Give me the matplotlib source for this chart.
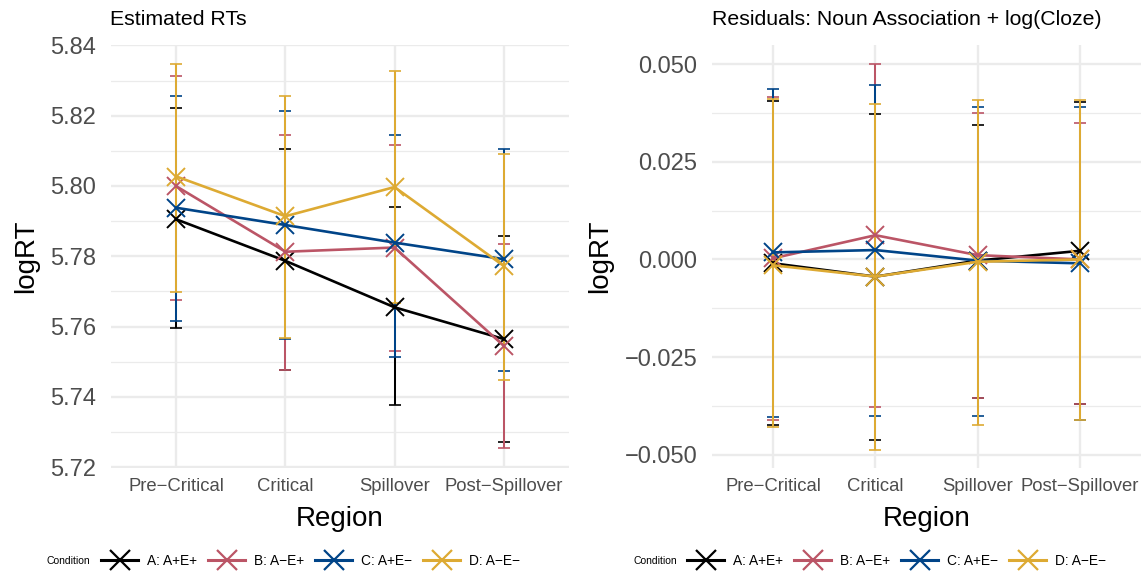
import matplotlib
matplotlib.use("Agg")
import matplotlib.pyplot as plt
from matplotlib.lines import Line2D
from matplotlib.ticker import MultipleLocator
import numpy as np

plt.rcParams['font.family'] = ['Liberation Sans', 'DejaVu Sans']

regions = ["Pre\u2212Critical", "Critical", "Spillover", "Post\u2212Spillover"]
conditions = ["A: A+E+", "B: A\u2212E+", "C: A+E\u2212", "D: A\u2212E\u2212"]
colors = ["#000000", "#BB5566", "#004488", "#DDAA33"]

# Panel 1: Estimated RTs
est_mean = {
    "A": [5.7905, 5.7787, 5.7655, 5.7565],
    "B": [5.7999, 5.7813, 5.7825, 5.7546],
    "C": [5.7938, 5.7889, 5.7839, 5.7792],
    "D": [5.8027, 5.7914, 5.7997, 5.7773],
}
est_upper = {
    "A": [5.8223, 5.8104, 5.7941, 5.7858],
    "B": [5.8312, 5.8144, 5.8117, 5.7836],
    "C": [5.8255, 5.8214, 5.8146, 5.8106],
    "D": [5.8348, 5.8257, 5.8326, 5.8091],
}
est_lower = {
    "A": [5.7596, 5.7478, 5.7378, 5.7272],
    "B": [5.7676, 5.7478, 5.7530, 5.7255],
    "C": [5.7617, 5.7566, 5.7515, 5.7474],
    "D": [5.7699, 5.7568, 5.7668, 5.7449],
}

# Panel 2: Residuals
res_mean = {
    "A": [-0.0010, -0.0044, -0.0003, 0.0022],
    "B": [0.0003, 0.0062, 0.0011, 0.0000],
    "C": [0.0018, 0.0024, -0.0003, -0.0010],
    "D": [-0.0015, -0.0044, -0.0006, 0.0000],
}
res_upper = {
    "A": [0.0406, 0.0372, 0.0345, 0.0402],
    "B": [0.0415, 0.0500, 0.0375, 0.0350],
    "C": [0.0436, 0.0446, 0.0391, 0.0389],
    "D": [0.0410, 0.0399, 0.0408, 0.0409],
}
res_lower = {
    "A": [-0.0425, -0.0463, -0.0355, -0.0369],
    "B": [-0.0412, -0.0378, -0.0355, -0.0369],
    "C": [-0.0403, -0.0400, -0.0400, -0.0412],
    "D": [-0.0429, -0.0487, -0.0423, -0.0412],
}

W, H = 1148, 573
fig = plt.figure(figsize=(W / 100, H / 100), dpi=100)


def px_axes(x0, x1, ytop, ybot):
    return fig.add_axes([x0 / W, (H - ybot) / H, (x1 - x0) / W, (ybot - ytop) / H])


GRID = "#EBEBEB"


def draw_panel(ax, mean, upper, lower, ylim, major, minor, fmt, title, title_x):
    x = np.arange(1, len(regions) + 1)
    keys = list(mean.keys())
    for i, k in enumerate(keys):
        m = np.array(mean[k]); u = np.array(upper[k]); l = np.array(lower[k])
        _, caps, bars = ax.errorbar(x, m, yerr=[m - l, u - m], fmt='none', ecolor=colors[i],
                                    elinewidth=1.25, capsize=4.3, capthick=1.2,
                                    zorder=3 + i * 0.1)
        for b in bars:
            b.set_snap(True)
            b.set_antialiased(False)
    for i, k in enumerate(keys):
        ax.plot(x, mean[k], color=colors[i], lw=1.9, marker='x', markersize=13,
                mew=1.4, zorder=4 + i * 0.1)
    ax.set_xlim(0.4, len(regions) + 0.6)
    ax.set_ylim(*ylim)
    ax.set_xticks(x)
    ax.set_xticklabels(regions)
    ax.yaxis.set_major_locator(MultipleLocator(major))
    ax.yaxis.set_minor_locator(MultipleLocator(minor))
    ax.yaxis.set_major_formatter(plt.FuncFormatter(lambda v, p: fmt.format(v).replace("-", "\u2212")))
    ax.grid(True, which='major', color=GRID, lw=1.7, zorder=0)
    ax.grid(True, which='minor', axis='y', color=GRID, lw=0.9, zorder=0)
    ax.set_axisbelow(True)
    for s in ax.spines.values():
        s.set_visible(False)
    ax.tick_params(axis='both', which='both', length=0)
    ax.tick_params(axis='y', labelsize=17, labelcolor="#4D4D4D", pad=10.5)
    ax.tick_params(axis='x', labelsize=13.3, labelcolor="#4D4D4D", pad=7)
    ax.set_xlabel("Region", fontsize=20, labelpad=8)
    ax.set_ylabel("logRT", fontsize=20, labelpad=8)
    fig.text(title_x / W, (H - 25) / H, title, fontsize=15.3, ha='left', va='baseline')


ax1 = px_axes(111, 569, 45, 468)
draw_panel(ax1, est_mean, est_upper, est_lower, (5.7198, 5.8401), 0.02, 0.01,
           "{:.2f}", "Estimated RTs", 110)
ax2 = px_axes(712, 1141, 45, 468)
draw_panel(ax2, res_mean, res_upper, res_lower, (-0.0534, 0.0549), 0.025, 0.0125,
           "{:.3f}", "Residuals: Noun Association + log(Cloze)", 712)


def add_legend(cond_x, leg_x):
    handles = [Line2D([0], [0], color=c, lw=2.2, marker='x', markersize=15, mew=1.6)
               for c in colors]
    fig.text(cond_x / W, (H - 561) / H, "Condition", fontsize=7.5, ha='left', va='center')
    fig.legend(handles, conditions, loc='center left',
               bbox_to_anchor=(leg_x / W, (H - 561) / H), ncol=4, frameon=False,
               fontsize=9.9, handlelength=2.7, handletextpad=0.65, columnspacing=0.8,
               borderpad=0, borderaxespad=0)


add_legend(47, 101)
add_legend(633, 687)

fig.savefig("out.png", dpi=100)
